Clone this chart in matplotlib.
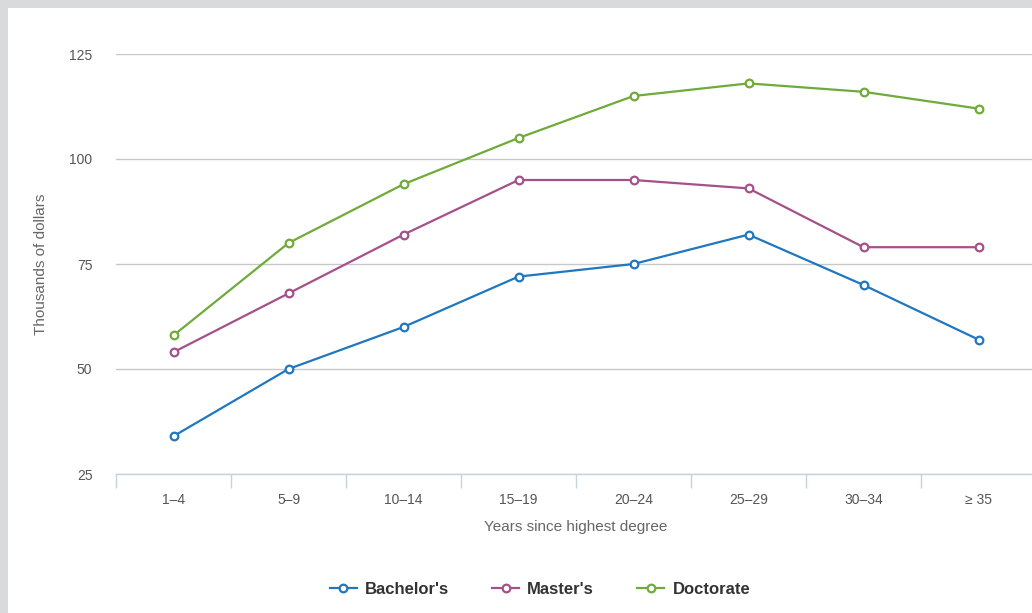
import matplotlib.pyplot as plt
from matplotlib.patches import Rectangle

plt.rcParams['font.family'] = ['Liberation Sans', 'DejaVu Sans']

categories = ['1–4', '5–9', '10–14', '15–19', '20–24', '25–29', '30–34', '≥ 35']
bachelors = [34, 50, 60, 72, 75, 82, 70, 57]
masters = [54, 68, 82, 95, 95, 93, 79, 79]
doctorate = [58, 80, 94, 105, 115, 118, 116, 112]

series = [
    ("Bachelor's", bachelors, '#1f77c0'),
    ("Master's", masters, '#a6508a'),
    ('Doctorate', doctorate, '#6fab3a'),
]

W, H = 1032, 613
fig = plt.figure(figsize=(W / 100, H / 100), dpi=100)
fig.patch.set_facecolor('#d9dadc')
# white panel inside the grey frame
fig.patches.append(Rectangle((8 / W, 0), 1, 1 - 8 / H, transform=fig.transFigure,
                             facecolor='white', edgecolor='none', zorder=-10))

ax = fig.add_axes([116 / W, (H - 474) / H, 920 / W, 420 / H])
ax.set_facecolor('none')

x = range(len(categories))
for name, vals, col in series:
    ax.plot(x, vals, color=col, lw=1.6, marker='o', ms=5.5, mfc='white',
            mec=col, mew=1.6, label=name, clip_on=False, zorder=3)

ax.set_xlim(-0.5, len(categories) - 0.5)
ax.set_ylim(25, 125)
ax.set_yticks([25, 50, 75, 100, 125])
ax.yaxis.grid(True, color='#c8c8c8', lw=1)
ax.set_axisbelow(True)

for s in ['top', 'right', 'left']:
    ax.spines[s].set_visible(False)
ax.spines['bottom'].set_color('#c5d3e0')
ax.spines['bottom'].set_linewidth(1)

ax.set_xticks(list(x))
ax.set_xticklabels(categories)
ax.set_xticks([i - 0.5 for i in range(len(categories) + 1)], minor=True)
ax.tick_params(axis='x', which='major', length=0, pad=14, labelsize=10, labelcolor='#555555')
ax.tick_params(axis='x', which='minor', length=10, color='#c5d3e0', width=1)
ax.tick_params(axis='y', length=0, pad=17, labelsize=10, labelcolor='#555555')

ax.set_xlabel('Years since highest degree', fontsize=11, color='#666666', labelpad=9)
ax.set_ylabel('Thousands of dollars', fontsize=11, color='#666666')
ax.yaxis.set_label_coords(-68 / 920, 0.5)

leg = fig.legend(loc='center', bbox_to_anchor=(540 / W, (H - 589) / H), ncol=3,
                 frameon=False, handlelength=1.6, columnspacing=2.6, handletextpad=0.5,
                 prop={'weight': 'bold', 'size': 12})
for t in leg.get_texts():
    t.set_color('#333333')

fig.savefig('out.png', dpi=100)
